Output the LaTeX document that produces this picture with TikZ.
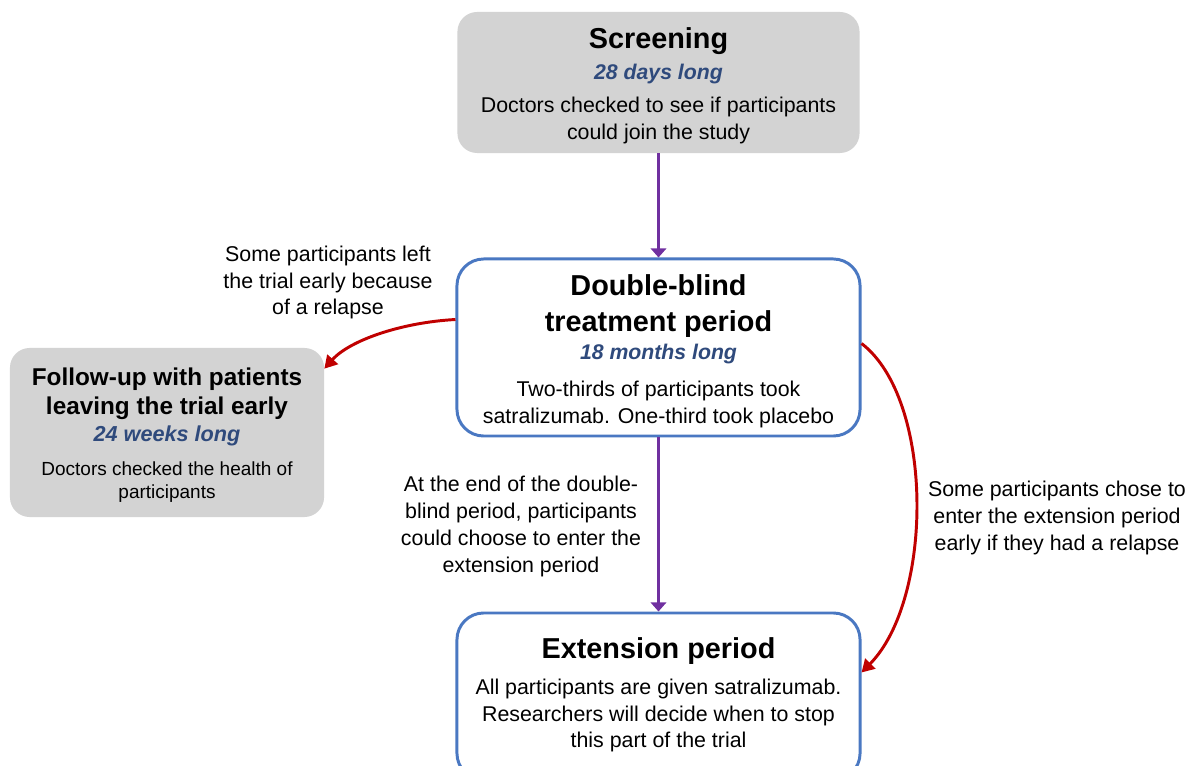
\documentclass[tikz,border=0pt]{standalone}
\usepackage{fontspec}
\setmainfont{Liberation Sans}
\usetikzlibrary{arrows.meta,calc}
\definecolor{boxgray}{HTML}{D3D3D3}
\definecolor{boxblue}{HTML}{4A78C2}
\definecolor{subblue}{HTML}{2F4A7C}
\definecolor{arrpurple}{HTML}{7030A0}
\definecolor{arrred}{HTML}{C00000}
\newcommand\dgBody{\fontsize{15.2pt}{19.1pt}\selectfont}
\newcommand\dgTitle{\fontsize{20.5pt}{25pt}\selectfont\bfseries}
\newcommand\dgSub{\fontsize{15.1pt}{19pt}\selectfont\bfseries\itshape\color{subblue}}
\newcommand\dgFuTitle{\fontsize{17.3pt}{21pt}\selectfont\bfseries}
\newcommand\dgFuSub{\fontsize{15.4pt}{19pt}\selectfont\bfseries\itshape\color{subblue}}
\newcommand\dgFuBody{\fontsize{13.5pt}{19pt}\selectfont}
\newcommand\dgTop[1]{\rule{0pt}{#1}}
\newcommand\dgBot[1]{\rule[-#1]{0pt}{#1}}
\tikzset{
  graybox/.style={fill=boxgray, rounded corners=14pt, inner sep=0pt, align=center},
  bluebox/.style={draw=boxblue, line width=2.1pt, fill=white, rounded corners=19pt, inner sep=0pt, align=center},
  lbl/.style={inner sep=0pt, align=center, font=\fontsize{15.2pt}{19pt}\selectfont},
  purplearrow/.style={draw=arrpurple, line width=2pt, -{Triangle[width=11pt,length=6.5pt]}},
  redarrow/.style={draw=arrred, line width=2.1pt, -{Triangle[width=10pt,length=9pt]}}
}
\begin{document}
\begin{tikzpicture}[x=0.025cm,y=-0.025cm]
\useasboundingbox (0,0) rectangle (1189,766);
\clip (0,0) rectangle (1189,766);

\node[graybox, font=\dgBody, minimum width=10.05cm, minimum height=3.525cm] (scr) at (658.5,82.5)
  {{\dgTitle\dgTop{20.55pt}Screening}\\[2.9pt]
   {\dgSub 28 days long}\\[5pt]
   Doctors checked to see if participants\\
   could join the study\dgBot{4.25pt}};

\node[bluebox, font=\dgBody, minimum width=10.075cm, minimum height=4.425cm] (dbl) at (658.5,347.5)
  {{\dgTitle\dgTop{21.3pt}Double-blind}\\[6.4pt]
   {\dgTitle treatment period}\\[0.7pt]
   {\dgSub 18 months long}\\[7.1pt]
   Two-thirds of participants took\\
   satralizumab. One-third took placebo\dgBot{4.25pt}};

\node[graybox, font=\dgFuBody, minimum width=7.85cm, minimum height=4.225cm] (fu) at (167,432.5)
  {{\dgFuTitle\dgTop{17.7pt}Follow-up with patients}\\[1.6pt]
   {\dgFuTitle leaving the trial early}\\[0.8pt]
   {\dgFuSub 24 weeks long}\\[5.1pt]
   Doctors checked the health of\\[-2.7pt]
   participants\dgBot{4.25pt}};

\node[bluebox, font=\dgBody, minimum width=10.075cm, minimum height=4.175cm] (ext) at (658.5,696.5)
  {{\dgTitle\dgTop{16.3pt}Extension period}\\[6.6pt]
   All participants are given satralizumab.\\
   Researchers will decide when to stop\\
   this part of the trial\dgBot{7.1pt}};

\node[lbl] (l1) at (328,282.5) {Some participants left\\the trial early because\\of a relapse};
\node[lbl] (l2) at (521,526.5) {At the end of the double-\\blind period, participants\\could choose to enter the\\extension period};
\node[lbl] (l3) at (1057,518) {Some participants chose to\\enter the extension period\\early if they had a relapse};

\draw[purplearrow] (scr.south) -- (dbl.north);
\draw[purplearrow] (dbl.south) -- (ext.north);
\draw[redarrow] ($(dbl.north west)+(0,62)$) .. controls +(-55,3) and +(25,-28) .. ($(fu.north east)+(0,21)$);
\draw[redarrow] ($(dbl.north east)+(0,86)$) .. controls +(73,56) and +(72,-73) .. ($(ext.north east)+(0,61)$);
\end{tikzpicture}
\end{document}
